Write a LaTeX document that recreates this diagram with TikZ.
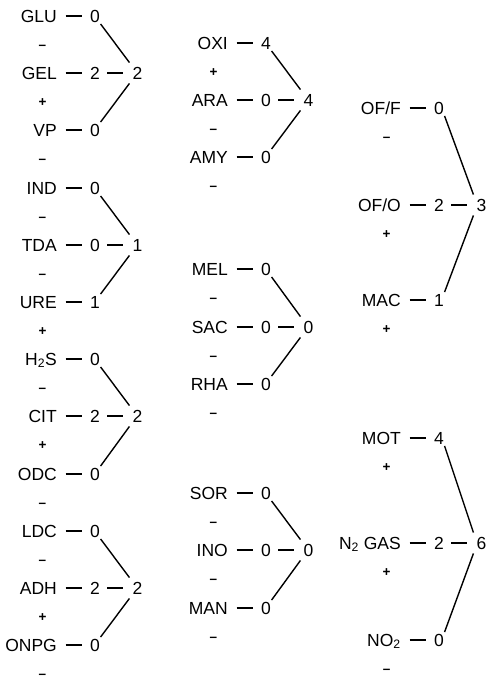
\documentclass[tikz,border=0pt]{standalone}
\usepackage{fontspec}
\setmainfont{Liberation Sans}
\tikzset{
  lab/.style={inner sep=0pt, text height=12.5pt, text depth=0pt, font=\fontsize{17.5}{20}\selectfont},
  val/.style={inner sep=0pt, text height=12.5pt, text depth=0pt, font=\fontsize{17.5}{20}\selectfont},
  sgn/.style={inner sep=0pt, anchor=base, font=\fontsize{13.5}{15}\selectfont\bfseries},
  dashline/.style={line width=1.8pt, shorten <=8.5pt, shorten >=7.5pt},
  dashtot/.style={line width=1.8pt, shorten <=7pt, shorten >=9pt},
  brk/.style={line width=1.4pt}
}
% #1 name, #2 x of label right edge, #3 y (px, downward), #4 label, #5 value, #6 sign
\newcommand{\testrow}[6]{%
  \node[lab, anchor=east] (#1) at (#2,-#3) {#4};
  \node[val] (#1v) at (#2+38,-#3) {#5};
  \node[sgn] (#1s) at (#2-14.5,-#3-33) {#6};
  \draw[dashline] (#1) -- (#1v);
}
% #1 top, #2 middle, #3 bottom, #4 total
\newcommand{\testgrp}[4]{%
  \node[val] (#2t) at ([xshift=42.5pt]#2v) {#4};
  \draw[dashtot] (#2v) -- (#2t);
  \draw[brk] ([xshift=0.5pt,yshift=-1.5pt]#1v.south east) -- ([xshift=-3pt,yshift=4pt]#2t.north west);
  \draw[brk] ([xshift=-3pt,yshift=-4pt]#2t.south west) -- ([xshift=0.5pt,yshift=1.5pt]#3v.north east);
}
\begin{document}
\begin{tikzpicture}[x=1pt,y=1pt]
\useasboundingbox (0,0) rectangle (491,-680);
% left column
\testrow{glu}{57}{16}{GLU}{0}{–}
\testrow{gel}{57}{73}{GEL}{2}{+}
\testrow{vp}{57}{130}{VP}{0}{–}
\testgrp{glu}{gel}{vp}{2}
\testrow{ind}{57}{188}{IND}{0}{–}
\testrow{tda}{57}{245}{TDA}{0}{–}
\testrow{ure}{57}{302}{URE}{1}{+}
\testgrp{ind}{tda}{ure}{1}
\testrow{hs}{57}{359}{H\textsubscript{2}S}{0}{–}
\testrow{cit}{57}{416}{CIT}{2}{+}
\testrow{odc}{57}{474}{ODC}{0}{–}
\testgrp{hs}{cit}{odc}{2}
\testrow{ldc}{57}{531}{LDC}{0}{–}
\testrow{adh}{57}{588}{ADH}{2}{+}
\testrow{onpg}{57}{645}{ONPG}{0}{–}
\testgrp{ldc}{adh}{onpg}{2}
% middle column
\testrow{oxi}{228}{43}{OXI}{4}{+}
\testrow{ara}{228}{100}{ARA}{0}{–}
\testrow{amy}{228}{157}{AMY}{0}{–}
\testgrp{oxi}{ara}{amy}{4}
\testrow{mel}{228}{269}{MEL}{0}{–}
\testrow{sac}{228}{327}{SAC}{0}{–}
\testrow{rha}{228}{384}{RHA}{0}{–}
\testgrp{mel}{sac}{rha}{0}
\testrow{sor}{228}{493}{SOR}{0}{–}
\testrow{ino}{228}{550}{INO}{0}{–}
\testrow{man}{228}{608}{MAN}{0}{–}
\testgrp{sor}{ino}{man}{0}
% right column
\testrow{off}{401}{108}{OF/F}{0}{–}
\testrow{ofo}{401}{205}{OF/O}{2}{+}
\testrow{mac}{401}{300}{MAC}{1}{+}
\testgrp{off}{ofo}{mac}{3}
\testrow{mot}{401}{438}{MOT}{4}{+}
\testrow{ngas}{401}{543}{N\textsubscript{2} GAS}{2}{+}
\testrow{no}{401}{640}{NO\textsubscript{2}}{0}{–}
\testgrp{mot}{ngas}{no}{6}
\end{tikzpicture}
\end{document}
